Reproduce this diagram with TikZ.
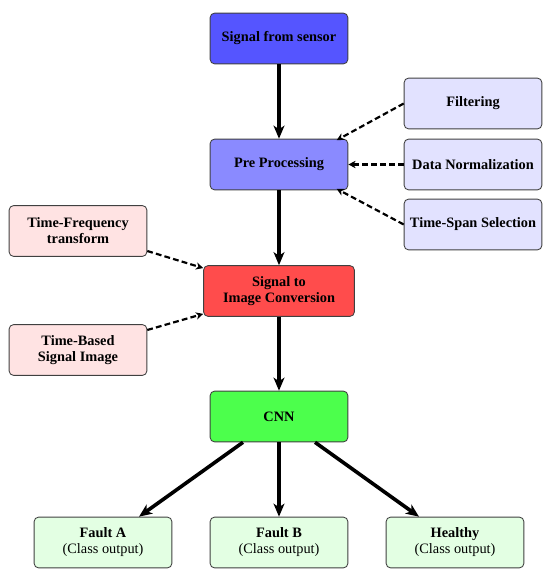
\documentclass[tikz,border=0pt]{standalone}
\usepackage{fontspec}
\setmainfont{Liberation Serif}
\usetikzlibrary{arrows.meta}
\definecolor{cA}{HTML}{5555FF}
\definecolor{cB}{HTML}{8A8AFF}
\definecolor{cC}{HTML}{E2E2FF}
\definecolor{cD}{HTML}{FF4C4C}
\definecolor{cE}{HTML}{FFE3E3}
\definecolor{cF}{HTML}{4CFF4C}
\definecolor{cG}{HTML}{E3FFE3}
\begin{document}
\begin{tikzpicture}[x=0.69pt,y=-0.69pt,
  box/.style={draw=black!75, line width=0.6pt, rounded corners=3pt, minimum width=95pt, minimum height=35pt, align=center, font=\fontsize{9.9}{11}\selectfont\bfseries, inner sep=2pt},
  outbox/.style={box, font=\fontsize{9.9}{11}\selectfont},
  main/.style={line width=2.5pt, -{Stealth[length=9pt,width=7.5pt,inset=2.5pt]}},
  aux/.style={line width=1.5pt, dash pattern=on 4pt off 2.2pt, -{Stealth[length=5pt,width=5pt,inset=1.5pt]}}]
\useasboundingbox (0,0) rectangle (550,577);
\node[box, fill=cA] (sen) at (279,38.5) {Signal from sensor};
\node[box, fill=cB] (pre) at (279,164.5) {Pre Processing};
\node[box, fill=cC] (fil) at (473,103.5) {Filtering};
\node[box, fill=cC] (nor) at (473,164.5) {Data Normalization};
\node[box, fill=cC] (spa) at (473,224.5) {Time-Span Selection};
\node[box, fill=cE] (tf) at (78,231) {Time-Frequency\\transform};
\node[box, fill=cD, minimum width=104pt] (s2i) at (279,291) {Signal to\\Image Conversion};
\node[box, fill=cE] (tb) at (78,350) {Time-Based\\Signal Image};
\node[box, fill=cF] (cnn) at (279,416.5) {CNN};
\node[outbox, fill=cG] (fa) at (103,542.5) {\textbf{Fault A}\\(Class output)};
\node[outbox, fill=cG] (fb) at (279,542.5) {\textbf{Fault B}\\(Class output)};
\node[outbox, fill=cG] (he) at (455,542.5) {\textbf{Healthy}\\(Class output)};
\draw[main] (sen) -- (pre);
\draw[main] (pre) -- (s2i);
\draw[main] (s2i) -- (cnn);
\draw[main] (cnn) -- (fa);
\draw[main] (cnn) -- (fb);
\draw[main] (cnn) -- (he);
\draw[aux] (fil.west) -- ([xshift=-8pt,yshift=-1pt]pre.north east);
\draw[aux] (nor.west) -- (pre.east);
\draw[aux] (spa.west) -- ([xshift=-8pt,yshift=1pt]pre.south east);
\draw[aux] ([yshift=4pt]tf.south east) -- ([yshift=-2pt]s2i.north west);
\draw[aux] ([yshift=-4pt]tb.north east) -- ([yshift=2pt]s2i.south west);
\end{tikzpicture}
\end{document}
